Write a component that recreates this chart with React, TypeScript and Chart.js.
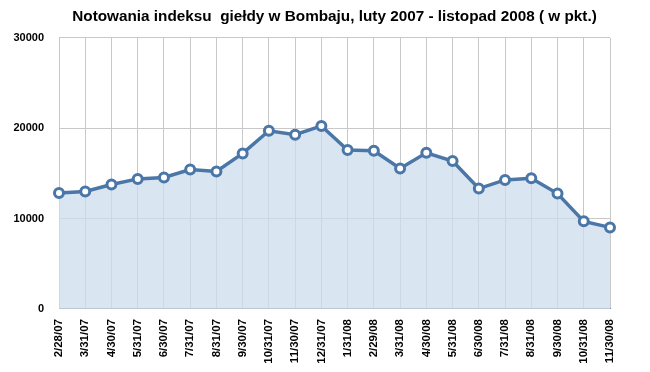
import React, { useEffect, useRef } from "react";
import { Chart, registerables } from "chart.js";

Chart.register(...registerables);

const categories: string[] = [
  "2/28/07", "3/31/07", "4/30/07", "5/31/07", "6/30/07", "7/31/07", "8/31/07",
  "9/30/07", "10/31/07", "11/30/07", "12/31/07", "1/31/08", "2/29/08", "3/31/08",
  "4/30/08", "5/31/08", "6/30/08", "7/31/08", "8/31/08", "9/30/08", "10/31/08", "11/30/08",
];

const indexValues: number[] = [
  12850, 13000, 13780, 14400, 14560, 15440, 15220, 17220, 19730, 19290, 20260,
  17590, 17510, 15560, 17290, 16370, 13330, 14290, 14480, 12780, 9700, 9030,
];

const yTicks: number[] = [0, 10000, 20000, 30000];

const titleText = "Notowania indeksu  giełdy w Bombaju, luty 2007 - listopad 2008 ( w pkt.)";

export default function App() {
  const ref = useRef<HTMLCanvasElement | null>(null);

  useEffect(() => {
    if (!ref.current) return;
    const font = "'Liberation Sans', Arial, Helvetica, sans-serif";
    const chart = new Chart(ref.current, {
      type: "line",
      data: {
        labels: categories,
        datasets: [
          {
            data: indexValues,
            borderColor: "#4a76a8",
            borderWidth: 3.5,
            backgroundColor: "rgba(205,220,237,0.75)",
            fill: "origin",
            tension: 0,
            pointRadius: 4.5,
            pointBorderWidth: 3,
            pointBackgroundColor: "#ffffff",
            pointBorderColor: "#4a76a8",
          },
        ],
      },
      options: {
        responsive: false,
        animation: false,
        layout: { padding: { left: 0, right: 40, top: 0, bottom: 0 } },
        plugins: {
          legend: { display: false },
          tooltip: { enabled: false },
          title: {
            display: true,
            text: titleText,
            fullSize: false,
            color: "#000000",
            font: { family: font, size: 15.3, weight: "bold", lineHeight: 1.2 },
            padding: { top: 8, bottom: 11.6 },
          },
        },
        scales: {
          x: {
            offset: false,
            grid: { color: "#c8c8c8", drawTicks: false, lineWidth: 1 },
            border: { color: "#8a8a8a", width: 1 },
            ticks: {
              autoSkip: false,
              minRotation: 90,
              maxRotation: 90,
              padding: 10,
              color: "#000000",
              font: { family: font, size: 11.5, weight: "bold" },
            },
            afterFit: (scale: any) => {
              scale.height = 63;
            },
          },
          y: {
            min: 0,
            max: 30000,
            grid: { color: "#c8c8c8", drawTicks: false, lineWidth: 1 },
            border: { display: false },
            afterBuildTicks: (scale: any) => {
              scale.ticks = yTicks.map((v) => ({ value: v }));
            },
            ticks: {
              padding: 15,
              color: "#000000",
              font: { family: font, size: 11, weight: "bold" },
              callback: (v: any) => String(v),
            },
            afterFit: (scale: any) => {
              scale.width = 59;
            },
          },
        },
      },
    });
    return () => chart.destroy();
  }, []);

  return (
    <div style={{ position: "absolute", left: 0, top: 0, width: 650, height: 372, background: "#ffffff" }}>
      <canvas ref={ref} width={650} height={372} />
    </div>
  );
}
